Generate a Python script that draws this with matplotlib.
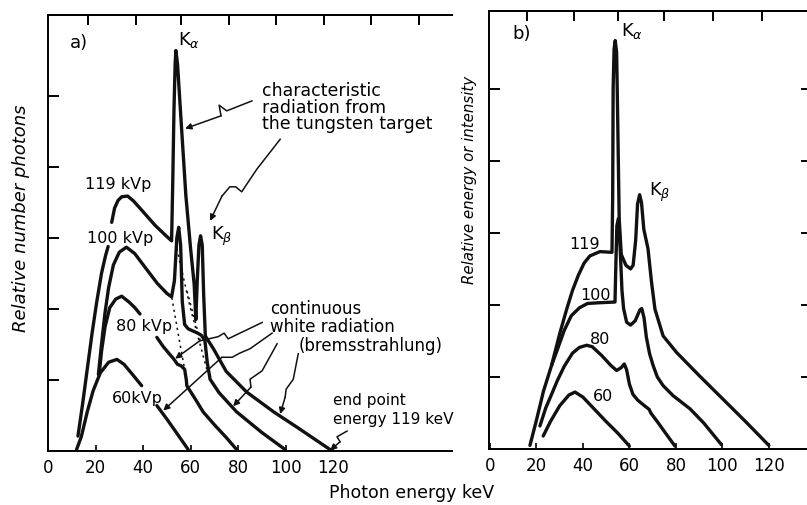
import numpy as np
import matplotlib.pyplot as plt

plt.rcParams['font.family'] = 'DejaVu Sans'

nan = np.nan

# ---- a) relative number of photons (keV, relative units); nan breaks a line under a label
a119_kev = [12.6, 14.5, 16.5, 18.5, 20.5, 22.5, 24.2, 25.3, nan,
            26.8, 28.0, 29.5, 31.0, 33.5, 36.0, 40.0, 45.0, 50.0, 52.0,
            52.5, 53.0, 53.5, 53.8, 54.5, 56.0, 58.0, 60.0, 61.5, 62.2,
            62.8, 63.5, 64.2, 64.9, 65.5, 66.2, 67.5, 69.6, 75.0, 83.6,
            95.0, 105.0, 118.7]
a119_val = [0.21, 0.65, 1.15, 1.65, 2.10, 2.50, 2.75, 2.88, nan,
            3.22, 3.42, 3.53, 3.58, 3.59, 3.52, 3.37, 3.18, 3.02, 2.96,
            3.80, 4.80, 5.45, 5.64, 5.45, 4.65, 3.60, 2.85, 2.35, 1.85,
            2.40, 2.90, 3.03, 2.90, 2.20, 1.62, 1.55, 1.44, 1.12, 0.83,
            0.55, 0.33, 0.02]

a100_kev = [21.2, 22.5, 24.0, 25.5, 27.5, 30.0, 33.0, 36.5, 41.0, 46.0,
            50.0, 52.0, 53.2, 54.2, 55.0, 55.8, 56.5, 57.5, 59.0, 61.0,
            63.0, 64.5, 66.0, 67.0, 68.2, 72.0, 79.4, 90.0, 99.8]
a100_val = [1.08, 1.50, 1.95, 2.30, 2.62, 2.80, 2.87, 2.78, 2.58, 2.36,
            2.22, 2.17, 2.40, 3.00, 3.15, 2.90, 2.10, 1.78, 1.72, 1.69,
            1.66, 1.63, 1.56, 1.25, 1.01, 0.82, 0.55, 0.26, 0.02]

a80_kev = [21.5, 22.5, 24.0, 26.0, 28.5, 31.0, 34.0, 36.5, 38.7, nan,
           45.8, 48.5, 51.0, 52.8, 54.5, 56.0, 57.5, 58.2, 58.4, 62.0,
           65.3, 70.0, 75.0, 79.4]
a80_val = [1.07, 1.40, 1.75, 2.02, 2.14, 2.18, 2.10, 2.02, 1.93, nan,
           1.60, 1.47, 1.37, 1.30, 1.22, 1.20, 1.15, 1.00, 0.92, 0.73,
           0.55, 0.37, 0.19, 0.02]

a60_kev = [12.0, 14.0, 16.5, 19.0, 22.0, 25.5, 29.0, 32.0, 35.5, 39.4, nan,
           45.8, 50.0, 54.0, 59.0]
a60_val = [0.02, 0.20, 0.55, 0.85, 1.10, 1.25, 1.29, 1.22, 1.08, 0.92, nan,
           0.64, 0.45, 0.26, 0.02]

# continuum under the characteristic lines (dotted)
a_dot1_kev = [52.1, 55.3, 58.6]
a_dot1_val = [2.16, 1.55, 0.95]
a_dot2_kev = [54.2, 60.0, 66.8]
a_dot2_val = [2.85, 2.00, 1.15]
a_dot3_kev = [58.5, 64.5]
a_dot3_val = [2.25, 1.50]

# ---- b) relative energy or intensity
b119_kev = [17.2, 20.0, 23.0, 26.5, 30.0, 33.0, 35.5, 38.0, 40.5, 43.0,
            47.3, 52.5, 52.8, 53.0, 53.4, 53.9, 54.5, 55.0, 55.6, 56.5,
            58.5, 60.5, 61.6, 62.7, 63.5, 64.4, 65.2, 66.2, 68.0, 69.5,
            71.0, 74.5, 80.3, 90.0, 100.0, 110.0, 120.0]
b119_val = [0.05, 0.40, 0.80, 1.16, 1.60, 1.94, 2.20, 2.41, 2.58, 2.68,
            2.74, 2.73, 3.50, 5.00, 5.55, 5.67, 5.50, 4.50, 3.20, 2.70,
            2.55, 2.50, 2.55, 2.90, 3.40, 3.53, 3.42, 3.05, 2.78, 2.32,
            1.94, 1.57, 1.34, 1.02, 0.70, 0.38, 0.05]

b100_kev = [26.5, 29.0, 32.0, 35.0, 38.5, 42.0, 47.0, 53.8, 54.2, 54.6,
            55.3, 56.0, 56.8, 57.5, 58.8, 60.5, 62.5, 64.5, 65.3, 66.3,
            67.3, 68.7, 70.2, 72.0, 74.5, 78.8, 86.0, 92.0, 99.6]
b100_val = [1.16, 1.38, 1.65, 1.85, 1.96, 2.02, 2.03, 2.04, 2.60, 3.10,
            3.20, 2.80, 2.20, 1.95, 1.76, 1.72, 1.78, 1.93, 1.95, 1.82,
            1.55, 1.32, 1.16, 1.00, 0.88, 0.74, 0.56, 0.36, 0.06]

b80_kev = [21.5, 24.0, 26.0, 29.0, 32.0, 35.5, 38.5, 41.6, 44.0, 48.0,
           52.0, 54.5, 56.5, 57.8, 58.8, 60.0, 61.5, 63.5, 66.5, 68.5,
           69.2, 72.0, 76.0, 79.6]
b80_val = [0.32, 0.57, 0.72, 0.95, 1.15, 1.33, 1.41, 1.44, 1.42, 1.30,
           1.16, 1.09, 1.13, 1.18, 1.10, 0.90, 0.76, 0.68, 0.60, 0.55,
           0.50, 0.38, 0.20, 0.04]

b60_kev = [22.9, 26.0, 30.0, 34.0, 36.6, 40.0, 45.0, 50.0, 55.0, 60.0]
b60_val = [0.18, 0.38, 0.60, 0.75, 0.79, 0.72, 0.55, 0.38, 0.22, 0.04]

x_ticks = [0, 20, 40, 60, 80, 100, 120]
y_ticks = [1, 2, 3, 4, 5]
top_ticks_a = [17, 37, 56, 76, 96, 116, 136, 156]
top_ticks_b = [16, 36, 55, 75, 96, 117]

LW = 2.4
ink = '#111111'
fs = 11.5
fs_note = 12


def curve(ax, x, y, **kw):
    ax.plot(x, y, color=ink, lw=LW, solid_capstyle='round',
            solid_joinstyle='round', **kw)


def leader(ax, pts):
    # hand-drawn style pointer: kinked line ending in an arrow head
    xs = [p[0] for p in pts[:-1]]
    ys = [p[1] for p in pts[:-1]]
    ax.plot(xs, ys, color=ink, lw=1.1)
    ax.annotate('', xy=pts[-1], xytext=pts[-2],
                arrowprops=dict(arrowstyle='-|>', color=ink, lw=1.1,
                                mutation_scale=9, shrinkA=0, shrinkB=0))


def frame(ax, top_ticks, right_ticks):
    for s in ['top', 'bottom', 'left', 'right']:
        ax.spines[s].set_linewidth(1.4)
    ax.spines['right'].set_visible(right_ticks)
    ax.set_xticks(x_ticks)
    ax.set_yticks(y_ticks)
    ax.tick_params(axis='x', direction='in', length=4, width=1.2,
                   labelsize=12, pad=5)
    ax.tick_params(axis='y', direction='in', length=8, width=1.4,
                   labelleft=False, right=right_ticks)
    sec = ax.secondary_xaxis('top')
    sec.set_xticks(top_ticks)
    sec.tick_params(direction='in', length=7, width=1.4, labeltop=False)
    sec.spines['top'].set_linewidth(1.4)


fig = plt.figure(figsize=(8.07, 5.06), dpi=100)
ax1 = fig.add_axes([0.0595, 0.1067, 0.5006, 0.8617])
ax2 = fig.add_axes([0.606, 0.1107, 0.400, 0.8656])

# ---------------- a)
ax1.set_xlim(0, 170)
ax1.set_ylim(0, 6.14)
frame(ax1, top_ticks_a, False)

curve(ax1, a119_kev, a119_val)
curve(ax1, a100_kev, a100_val)
curve(ax1, a80_kev, a80_val)
curve(ax1, a60_kev, a60_val)
for xs, ys in [(a_dot1_kev, a_dot1_val), (a_dot2_kev, a_dot2_val),
               (a_dot3_kev, a_dot3_val)]:
    ax1.plot(xs, ys, color=ink, lw=1.1, ls=(0, (1.5, 2.5)))

ax1.text(9.3, 5.76, 'a)', fontsize=13, va='center')
ax1.text(59.4, 5.8, r'K$_\alpha$', fontsize=13, ha='center', va='center')
ax1.text(73.3, 3.04, r'K$_\beta$', fontsize=13, ha='center', va='center')
ax1.text(29.5, 3.77, '119 kVp', fontsize=fs, ha='center', va='center')
ax1.text(30.3, 3.01, '100 kVp', fontsize=fs, ha='center', va='center')
ax1.text(40.4, 1.77, '80 kVp', fontsize=fs, ha='center', va='center')
ax1.text(37.5, 0.76, '60kVp', fontsize=fs, ha='center', va='center')
ax1.text(90.1, 4.85, 'characteristic\nradiation from\nthe tungsten target',
         fontsize=12.5, ha='left', va='center', linespacing=0.87)
ax1.text(93.5, 2.01, 'continuous', fontsize=fs_note, va='center')
ax1.text(93.5, 1.76, 'white radiation', fontsize=fs_note, va='center')
ax1.text(105.3, 1.49, '(bremsstrahlung)', fontsize=fs_note, va='center')
ax1.text(120.0, 0.73, 'end point', fontsize=11, va='center')
ax1.text(120.0, 0.46, 'energy 119 keV', fontsize=11, va='center')

leader(ax1, [(85.8, 4.93), (75.2, 4.79), (72.0, 4.87), (72.8, 4.72), (57.7, 4.54)])
leader(ax1, [(97.7, 4.39), (87.9, 3.97), (81.5, 3.65), (79.0, 3.72),
             (76.5, 3.72), (73.2, 3.59), (68.2, 3.24)])
leader(ax1, [(90.1, 1.81), (75.8, 1.58), (74.1, 1.66), (71.6, 1.61),
             (63.8, 1.55), (53.5, 1.30)])
leader(ax1, [(94.3, 1.66), (85.0, 1.44), (80.8, 1.38), (77.5, 1.32),
             (73.2, 1.32), (48.5, 0.57)])
leader(ax1, [(96.4, 1.51), (90.1, 1.13), (85.0, 1.01), (85.4, 0.90), (77.9, 0.63)])
leader(ax1, [(105.3, 1.37), (103.2, 1.01), (100.2, 0.87), (99.8, 0.76), (97.7, 0.52)])
leader(ax1, [(125.8, 0.28), (121.6, 0.20), (122.9, 0.13), (118.7, 0.01)])

ax1.text(-0.067, 0.537, 'Relative number photons', transform=ax1.transAxes,
         rotation=90, fontsize=13, style='italic', ha='center', va='center')

# ---------------- b)
ax2.set_xlim(-0.4, 138.5)
ax2.set_ylim(0, 6.08)
frame(ax2, top_ticks_b, True)

curve(ax2, b119_kev, b119_val)
curve(ax2, b100_kev, b100_val)
curve(ax2, b80_kev, b80_val)
curve(ax2, b60_kev, b60_val)

ax2.text(9.5, 5.78, 'b)', fontsize=13, va='center')
ax2.text(61.1, 5.81, r'K$_\alpha$', fontsize=13, ha='center', va='center')
ax2.text(73.1, 3.57, r'K$_\beta$', fontsize=13, ha='center', va='center')
ax2.text(40.9, 2.85, '119', fontsize=fs, ha='center', va='center')
ax2.text(45.2, 2.15, '100', fontsize=fs, ha='center', va='center')
ax2.text(47.3, 1.54, '80', fontsize=fs, ha='center', va='center')
ax2.text(48.6, 0.74, '60', fontsize=fs, ha='center', va='center')

ax2.text(-0.059, 0.616, 'Relative energy or intensity', transform=ax2.transAxes,
         rotation=90, fontsize=10.8, style='italic', ha='center', va='center')

fig.text(0.51, 0.026, 'Photon energy keV', fontsize=12.5, ha='center', va='center')

fig.savefig('out.png', dpi=100)
